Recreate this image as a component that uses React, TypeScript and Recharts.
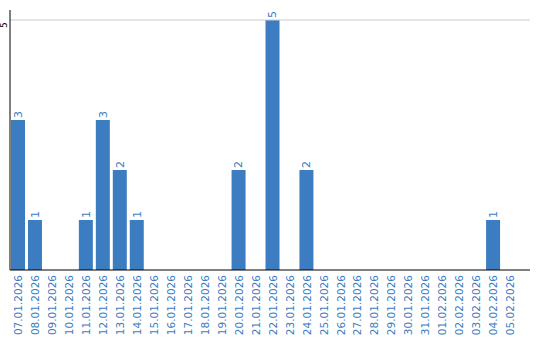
import React from "react";
import { BarChart, Bar, XAxis, YAxis, ReferenceLine, LabelList } from "recharts";

const dates = [
  "07.01.2026", "08.01.2026", "09.01.2026", "10.01.2026", "11.01.2026",
  "12.01.2026", "13.01.2026", "14.01.2026", "15.01.2026", "16.01.2026",
  "17.01.2026", "18.01.2026", "19.01.2026", "20.01.2026", "21.01.2026",
  "22.01.2026", "23.01.2026", "24.01.2026", "25.01.2026", "26.01.2026",
  "27.01.2026", "28.01.2026", "29.01.2026", "30.01.2026", "31.01.2026",
  "01.02.2026", "02.02.2026", "03.02.2026", "04.02.2026", "05.02.2026",
];
const counts = [3, 1, 0, 0, 1, 3, 2, 1, 0, 0, 0, 0, 0, 2, 0, 5, 0, 2, 0, 0, 0, 0, 0, 0, 0, 0, 0, 0, 1, 0];
const yTicks = [5];

const data = dates.map((d, i) => ({ date: d, count: counts[i] }));

const BLUE = "#3b7dc0";
const FONT = "DejaVu Sans, sans-serif";

const DateTick = (props: any) => {
  const { x, y, payload } = props;
  const ty = y - 3;
  return (
    <text
      x={x}
      y={ty}
      transform={`rotate(-90 ${x} ${ty})`}
      textAnchor="end"
      dy="0.35em"
      fill={BLUE}
      fontSize={10.5}
      fontFamily={FONT}
    >
      {payload.value}
    </text>
  );
};

const CountTick = (props: any) => {
  const { y, payload } = props;
  const tx = 4;
  const ty = y + 5;
  return (
    <text
      x={tx}
      y={ty}
      transform={`rotate(-90 ${tx} ${ty})`}
      textAnchor="middle"
      dy="0.35em"
      fill="#000"
      fontSize={9}
      fontFamily={FONT}
    >
      {payload.value}
    </text>
  );
};

const BarValue = (props: any) => {
  const { x, y, width, value } = props;
  if (!value) return null;
  const cx = x + width / 2;
  const ty = y - 2;
  return (
    <text
      x={cx}
      y={ty}
      transform={`rotate(-90 ${cx} ${ty})`}
      textAnchor="start"
      dy="0.35em"
      fill={BLUE}
      fontSize={11}
      fontFamily={FONT}
    >
      {value}
    </text>
  );
};

export default function App() {
  return (
    <div style={{ position: "absolute", left: 0, top: 0 }}>
      <BarChart
        width={540}
        height={340}
        data={data}
        margin={{ top: 10, right: 10, left: 0, bottom: 0 }}
      >
        <XAxis
          dataKey="date"
          interval={0}
          height={70}
          tick={<DateTick />}
          tickLine={false}
          axisLine={{ stroke: "#000" }}
          padding={{ left: 0, right: 11 }}
        />
        <YAxis
          domain={[0, 5.2]}
          ticks={yTicks}
          width={10}
          tick={<CountTick />}
          tickLine={false}
          axisLine={{ stroke: "#000" }}
        />
        <ReferenceLine y={yTicks[0]} stroke="#cccccc" />
        <Bar dataKey="count" fill={BLUE} barSize={14} isAnimationActive={false}>
          <LabelList dataKey="count" content={<BarValue />} />
        </Bar>
      </BarChart>
    </div>
  );
}
